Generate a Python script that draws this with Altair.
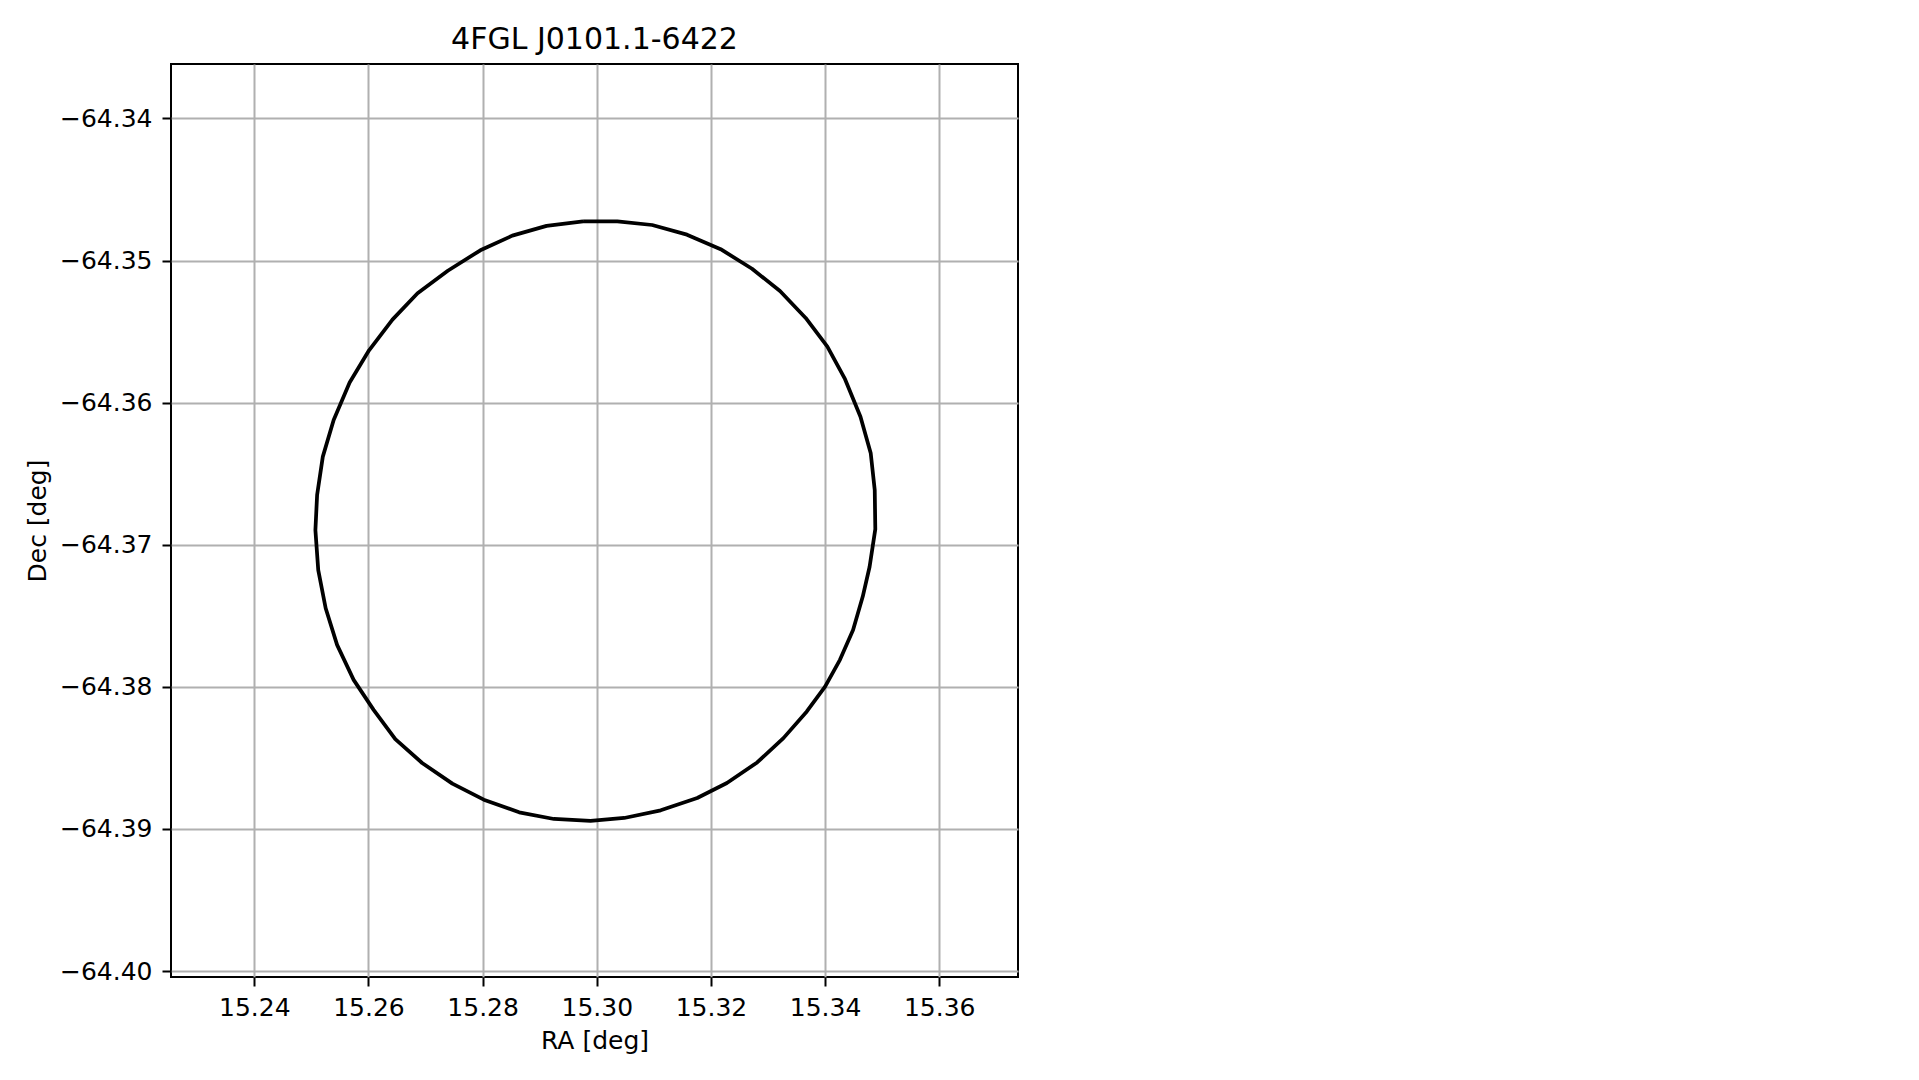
import altair as alt
import pandas as pd

# Error-ellipse polygon vertices (deg)
ra = [15.2976, 15.3036, 15.3097, 15.3158, 15.3217, 15.3272, 15.3321, 15.3366,
      15.3404, 15.3435, 15.3462, 15.3480, 15.3487, 15.3488, 15.3478, 15.3466,
      15.3449, 15.3426, 15.3400, 15.3368, 15.3327, 15.3281, 15.3228, 15.3176,
      15.3112, 15.3048, 15.2989, 15.2925, 15.2864, 15.2802, 15.2747, 15.2694,
      15.2647, 15.2609, 15.2574, 15.2545, 15.2525, 15.2512, 15.2507, 15.2510,
      15.2520, 15.2539, 15.2567, 15.2601, 15.2642, 15.2686, 15.2739, 15.2796,
      15.2852, 15.2912]
dec = [-64.34725, -64.34725, -64.34750, -64.34818, -64.34920, -64.35058, -64.35215, -64.35404,
       -64.35606, -64.35835, -64.36099, -64.36357, -64.36615, -64.36890, -64.37155, -64.37365,
       -64.37600, -64.37810, -64.37998, -64.38173, -64.38361, -64.38532, -64.38677, -64.38782,
       -64.38869, -64.38923, -64.38944, -64.38930, -64.38883, -64.38794, -64.38681, -64.38536,
       -64.38368, -64.38162, -64.37951, -64.37705, -64.37447, -64.37178, -64.36897, -64.36650,
       -64.36380, -64.36122, -64.35859, -64.35632, -64.35416, -64.35230, -64.35072, -64.34928,
       -64.34825, -64.34756]

x_ticks = [15.24, 15.26, 15.28, 15.30, 15.32, 15.34, 15.36]
y_ticks = [-64.40, -64.39, -64.38, -64.37, -64.36, -64.35, -64.34]
x_domain = [15.2254, 15.3738]
y_domain = [-64.40042, -64.33617]

title_text = "4FGL J0101.1-6422"
x_title = "RA [deg]"
y_title = "Dec [deg]"

# close the polygon by returning to the first vertex
df = pd.DataFrame({
    "ra": ra + [ra[0]],
    "dec": dec + [dec[0]],
    "i": list(range(len(ra) + 1)),
})

FONT = "DejaVu Sans"

chart = (
    alt.Chart(df)
    .mark_line(color="black", strokeWidth=3.75, clip=True, strokeJoin="round")
    .encode(
        x=alt.X(
            "ra:Q",
            scale=alt.Scale(domain=x_domain, nice=False, zero=False),
            axis=alt.Axis(
                values=x_ticks, format=".2f", title=x_title,
                titleY=71, titleBaseline="alphabetic", labelPadding=9,
            ),
        ),
        y=alt.Y(
            "dec:Q",
            scale=alt.Scale(domain=y_domain, nice=False, zero=False),
            axis=alt.Axis(
                values=y_ticks, format=".2f", title=y_title,
                titleX=-126, titleY=456.5, titleBaseline="alphabetic",
                titleAngle=-90, labelPadding=10,
            ),
        ),
        order="i:Q",
    )
    .properties(
        width=847,
        height=913,
        title=alt.TitleParams(
            text=title_text, font=FONT, fontSize=30, fontWeight="normal",
            color="black", anchor="middle", frame="group", baseline="alphabetic",
            offset=15, dy=30,
        ),
        autosize=alt.AutoSizeParams(type="none"),
        padding={"left": 163, "top": 56, "right": 30, "bottom": 80},
    )
    .configure_view(stroke="black", strokeWidth=2)
    .configure_axis(
        domain=False,
        grid=True,
        gridColor="#b0b0b0",
        gridWidth=2,
        ticks=True,
        tickColor="black",
        tickWidth=2,
        tickSize=9,
        labelFont=FONT,
        labelFontSize=25,
        labelColor="black",
        titleFont=FONT,
        titleFontSize=25,
        titleFontWeight="normal",
        titleColor="black",
        labelFlush=False,
        labelOverlap=False,
    )
)

chart.save("out.html", embed_options={"renderer": "svg", "actions": False})
